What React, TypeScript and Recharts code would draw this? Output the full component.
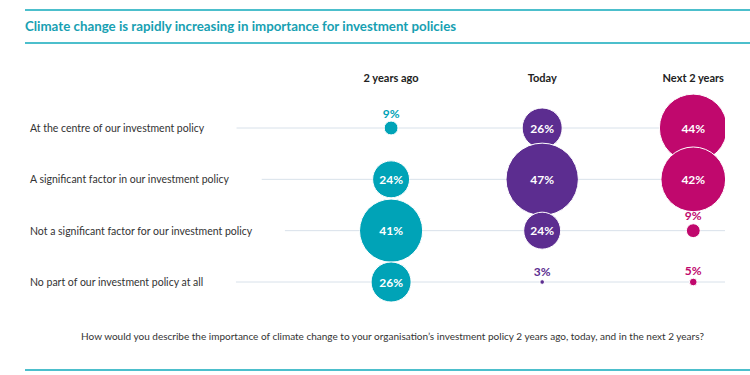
import React from "react";
import { ScatterChart, Scatter, XAxis, YAxis, CartesianGrid } from "recharts";

const periods = ["2 years ago", "Today", "Next 2 years"];
const answers = [
  "At the centre of our investment policy",
  "A significant factor in our investment policy",
  "Not a significant factor for our investment policy",
  "No part of our investment policy at all",
];
const twoYearsAgo = [9, 24, 41, 26];
const today = [26, 47, 24, 3];
const nextTwoYears = [44, 42, 9, 5];
const periodColors = ["#00a3b7", "#5c2d90", "#c0086d"];

const FONT = "Lato, 'Open Sans', sans-serif";
const LABEL_FONT_SIZE = 10.5;
const R_PER_PCT = 0.77;
const LABEL_X = 30;
const LINE_END = 725;

const series = [twoYearsAgo, today, nextTwoYears].map((values, i) => ({
  name: periods[i],
  color: periodColors[i],
  data: values.map((v, j) => ({ period: i, answer: j, value: v })),
}));

let ctx: CanvasRenderingContext2D | null = null;
function textWidth(text: string, font: string) {
  if (!ctx) ctx = document.createElement("canvas").getContext("2d");
  if (!ctx) return text.length * 4.5;
  ctx.font = font;
  return ctx.measureText(text).width;
}

function Bubble(props: any) {
  const { cx, cy, payload, fill } = props;
  const r = payload.value * R_PER_PCT;
  const inside = r > 12;
  return (
    <g>
      <circle cx={cx} cy={cy} r={r} fill={fill} stroke="#fff" strokeWidth={1} />
      <text
        x={cx}
        y={inside ? cy : cy - r - 8}
        textAnchor="middle"
        dominantBaseline="central"
        fill={inside ? "#fff" : fill}
        fontFamily={FONT}
        fontWeight={700}
        fontSize={12}
      >
        {payload.value}%
      </text>
    </g>
  );
}

// row guide line: starts a little after the row label, ends at the right edge
function RowLine(props: any) {
  const { y1, index } = props;
  const label = answers[index];
  if (label === undefined) return null;
  const w = textWidth(label, `${LABEL_FONT_SIZE}px ${FONT}`);
  return <line x1={LABEL_X + w + 32} x2={LINE_END} y1={y1} y2={y1} stroke="#d8e1ea" strokeWidth={1} />;
}

function AnswerTick({ y, payload }: any) {
  return (
    <text x={LABEL_X} y={y} dominantBaseline="central" fontSize={LABEL_FONT_SIZE} fill="#333" fontFamily={FONT}>
      {answers[payload.value]}
    </text>
  );
}

function PeriodTick({ x, y, payload }: any) {
  return (
    <text x={x} y={y} textAnchor="middle" dominantBaseline="central" fontSize={11} fontWeight={700} fill="#222" fontFamily={FONT}>
      {periods[payload.value]}
    </text>
  );
}

export default function App() {
  return (
    <div style={{ position: "absolute", left: 0, top: 0, width: 750, height: 375, background: "#fff", fontFamily: FONT }}>
      <div style={{ position: "absolute", left: 25, right: 0, top: 9, borderTop: "2px solid #4cbfcc" }} />
      <div style={{ position: "absolute", left: 25, top: 18, fontSize: 13.3, fontWeight: 700, color: "#17a0b2", whiteSpace: "nowrap" }}>
        Climate change is rapidly increasing in importance for investment policies
      </div>
      <div style={{ position: "absolute", left: 25, right: 0, top: 42, borderTop: "2px solid #4cbfcc" }} />
      <div style={{ position: "absolute", left: 0, top: 0 }}>
        <ScatterChart width={750} height={375} margin={{ top: 68, right: 25, bottom: 93, left: 0 }}>
          <CartesianGrid vertical={false} horizontal={(p: any) => <RowLine key={p.key ?? p.index} {...p} />} />
          <XAxis
            type="number"
            dataKey="period"
            orientation="top"
            domain={[-1, 2.21]}
            ticks={[0, 1, 2]}
            height={60}
            tickSize={0}
            tickMargin={51}
            axisLine={false}
            tickLine={false}
            tick={<PeriodTick />}
            allowDataOverflow
          />
          <YAxis
            type="number"
            dataKey="answer"
            reversed
            domain={[0, 3]}
            ticks={[0, 1, 2, 3]}
            width={240}
            tickSize={0}
            axisLine={false}
            tickLine={false}
            tick={<AnswerTick />}
          />
          {series.map((s) => (
            <Scatter key={s.name} name={s.name} data={s.data} fill={s.color} shape={<Bubble />} isAnimationActive={false} />
          ))}
        </ScatterChart>
      </div>
      <div style={{ position: "absolute", left: 0, width: 785, top: 330, textAlign: "center", fontSize: 10, color: "#333" }}>
        How would you describe the importance of climate change to your organisation’s investment policy 2 years ago, today, and in the next 2 years?
      </div>
      <div style={{ position: "absolute", left: 25, right: 0, top: 369, borderTop: "2px solid #4cbfcc" }} />
    </div>
  );
}
